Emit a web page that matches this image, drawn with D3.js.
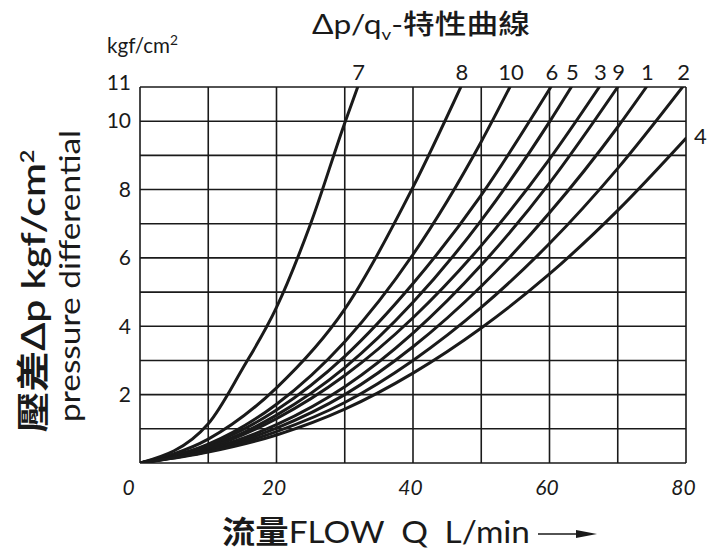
<!DOCTYPE html>
<html>
<head>
<meta charset="utf-8">
<script src="https://cdn.jsdelivr.net/npm/d3@7"></script>
<style>
  html, body { margin: 0; padding: 0; background: #fff; }
  svg { display: block; }
  .num { font-family: Lato, "Open Sans", "DejaVu Sans", sans-serif; font-weight: 400; fill: #1a1a1a; }
</style>
</head>
<body>
<svg id="chart" width="708" height="556"></svg>
<script>
// ---- data ----
const xTicks = [0, 20, 40, 60, 80];
const yTicks = [2, 4, 6, 8, 10, 11];
const xGrid = [0, 10, 20, 30, 40, 50, 60, 70, 80];
const yGrid = [0, 1, 2, 3, 4, 5, 6, 7, 8, 9, 10, 11];
const curveNames = ["7", "8", "10", "6", "5", "3", "9", "1", "2", "4"];
// each curve: [flow Q (L/min), pressure differential Δp (kgf/cm²)]
const curve7  = [[0,0],[10,1.15],[15,2.75],[20,4.55],[25,7.0],[30,9.95],[31.9,11]];
const curve8  = [[0,0],[10,0.7],[20,2.2],[30,4.5],[40,8.07],[47,11]];
const curve10 = [[0,0],[10,0.55],[20,1.72],[30,3.55],[40,6.1],[50,9.4],[54.2,11]];
const curve6  = [[0,0],[10,0.52],[20,1.55],[30,3.12],[40,5.25],[50,7.84],[60.2,11]];
const curve5  = [[0,0],[10,0.47],[20,1.4],[30,2.79],[40,4.7],[50,7.1],[60,9.98],[63.2,11]];
const curve3  = [[0,0],[10,0.44],[20,1.3],[30,2.56],[40,4.25],[50,6.36],[60,8.89],[67.3,11]];
const curve9  = [[0,0],[10,0.4],[20,1.12],[30,2.23],[40,3.8],[50,5.79],[60,8.19],[70,11]];
const curve1  = [[0,0],[10,0.37],[20,1.02],[30,2.0],[40,3.4],[50,5.17],[60,7.32],[70,9.83],[74.2,11]];
const curve2  = [[0,0],[10,0.34],[20,0.92],[30,1.77],[40,3.0],[50,4.55],[60,6.42],[70,8.62],[79.5,11]];
const curve4  = [[0,0],[10,0.32],[20,0.82],[30,1.575],[40,2.63],[50,3.95],[60,5.53],[70,7.39],[80,9.5]];
const curveData = [curve7, curve8, curve10, curve6, curve5, curve3, curve9, curve1, curve2, curve4];

// ---- drawing ----
const svg = d3.select("#chart");
const x = d3.scaleLinear().domain([0, 80]).range([140, 686]);
const y = d3.scaleLinear().domain([0, 11]).range([463, 87]);

// grid
const grid = svg.append("g").attr("stroke", "#1a1a1a").attr("stroke-width", 1.6);
grid.selectAll("line.v").data(xGrid).join("line")
  .attr("x1", d => x(d)).attr("x2", d => x(d))
  .attr("y1", y(0)).attr("y2", y(11));
grid.selectAll("line.h").data(yGrid).join("line")
  .attr("x1", x(0)).attr("x2", x(80))
  .attr("y1", d => y(d)).attr("y2", d => y(d));

// clip
svg.append("clipPath").attr("id", "plot")
  .append("rect").attr("x", x(0)).attr("y", y(11)).attr("width", x(80) - x(0)).attr("height", y(0) - y(11));

const line = d3.line().x(d => x(d[0])).y(d => y(d[1])).curve(d3.curveMonotoneX);
svg.append("g").attr("clip-path", "url(#plot)")
  .selectAll("path").data(curveData).join("path")
  .attr("d", line)
  .attr("fill", "none").attr("stroke", "#1a1a1a").attr("stroke-width", 3)
  .attr("stroke-linecap", "round");

// curve labels
svg.append("g").selectAll("text").data(curveData).join("text")
  .attr("class", "num")
  .attr("font-size", 22)
  .attr("text-anchor", d => d[d.length - 1][1] >= 11 ? "middle" : "start")
  .attr("x", (d) => { const e = d[d.length - 1]; return e[1] >= 11 ? x(e[0]) + 1 : x(e[0]) + 8; })
  .attr("y", (d) => { const e = d[d.length - 1]; return e[1] >= 11 ? 80 : y(e[1]) + 6; })
  .text((d, i) => curveNames[i]);

// x axis
const xAxis = svg.append("g").attr("transform", `translate(0,${y(0)})`)
  .call(d3.axisBottom(x).tickValues(xTicks).tickSize(0).tickPadding(17).tickFormat(d3.format("d")));
xAxis.select(".domain").remove();
xAxis.selectAll("text").attr("class", "num").attr("font-size", 21).attr("font-style", "italic")
  .attr("fill", "#1a1a1a")
  .attr("dx", d => d === 0 ? -12 : -3);

// y axis
const yAxis = svg.append("g").attr("transform", `translate(${x(0)},0)`)
  .call(d3.axisLeft(y).tickValues(yTicks).tickSize(0).tickPadding(9).tickFormat(d3.format("d")));
yAxis.select(".domain").remove();
yAxis.selectAll("text").attr("class", "num").attr("font-size", 21).attr("fill", "#1a1a1a")
  .attr("dy", d => d === 11 ? "0.1em" : "0.32em");

// unit label
svg.append("text").attr("class", "num").attr("x", 107).attr("y", 53).attr("font-size", 21)
  .attr("textLength", 71).attr("lengthAdjust", "spacingAndGlyphs")
  .html('kgf/cm<tspan dy="-8" font-size="14">2</tspan>');

// title
const title = svg.append("text").attr("x", 312).attr("y", 34).attr("font-size", 27)
  .attr("fill", "#1a1a1a").attr("font-family", "Lato, 'Open Sans', sans-serif")
  .attr("textLength", 218).attr("lengthAdjust", "spacingAndGlyphs");
title.append("tspan").text("Δp/q");
title.append("tspan").attr("dy", 6).attr("font-size", 16).text("v");
title.append("tspan").attr("dy", -6).text("-");
title.append("tspan").attr("font-family", "'Noto Sans CJK TC', 'Noto Sans CJK JP', sans-serif")
  .attr("font-weight", 500).text("特性曲線");

// y-axis titles
const yt1 = svg.append("text").attr("transform", "translate(45,291) rotate(-90)")
  .attr("text-anchor", "middle").attr("font-size", 33)
  .attr("fill", "#1a1a1a").attr("font-family", "Lato, 'Open Sans', sans-serif")
  .attr("font-weight", 600)
  .attr("textLength", 283).attr("lengthAdjust", "spacingAndGlyphs");
yt1.append("tspan").attr("font-family", "'Noto Sans CJK TC', 'Noto Sans CJK JP', sans-serif")
  .attr("font-weight", 700).text("壓差");
yt1.append("tspan").text("Δp kgf/cm");
yt1.append("tspan").attr("dy", -11).attr("font-size", 19).text("2");
svg.append("text").attr("transform", "translate(80,276) rotate(-90)")
  .attr("text-anchor", "middle").attr("font-size", 28).attr("fill", "#1a1a1a")
  .attr("font-family", "Lato, 'Open Sans', sans-serif")
  .attr("textLength", 292).attr("lengthAdjust", "spacingAndGlyphs")
  .text("pressure differential");

// x-axis title
const xt = svg.append("text").attr("x", 222).attr("y", 543).attr("font-size", 31)
  .attr("fill", "#1a1a1a").attr("font-family", "Lato, 'Open Sans', sans-serif")
  .attr("textLength", 308).attr("lengthAdjust", "spacingAndGlyphs");
xt.append("tspan").attr("font-family", "'Noto Sans CJK TC', 'Noto Sans CJK JP', sans-serif").attr("font-weight", 700).text("流量");
xt.append("tspan").text("FLOW\u2002Q\u2002L/min");
const ax = svg.append("g").attr("transform", "translate(0,534)");
ax.append("line").attr("x1", 538).attr("x2", 582).attr("y1", 0).attr("y2", 0)
  .attr("stroke", "#1a1a1a").attr("stroke-width", 1.5);
ax.append("path").attr("d", "M576,-4 L597,0 L576,4 Z").attr("fill", "#1a1a1a");
</script>
</body>
</html>
